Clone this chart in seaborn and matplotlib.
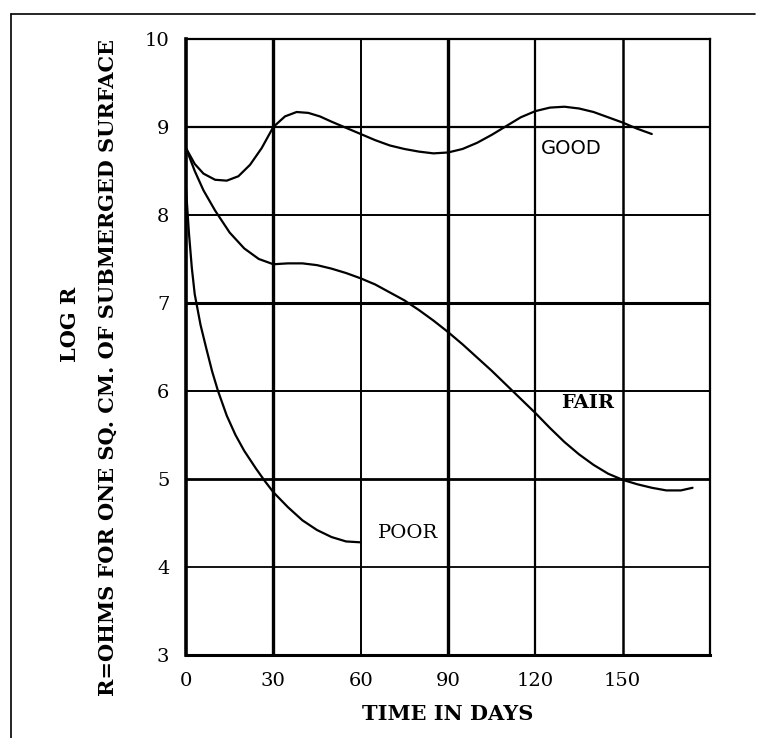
import matplotlib
matplotlib.use("Agg")
import matplotlib.pyplot as plt
import numpy as np
import pandas as pd
import seaborn as sns
from matplotlib.lines import Line2D

# values
good_days = [0, 3, 6, 10, 14, 18, 22, 26, 30, 34, 38, 42, 46, 50, 55, 60, 65, 70, 75, 80,
             85, 90, 95, 100, 105, 110, 115, 120, 125, 130, 135, 140, 145, 150, 155, 160]
good_logr = [8.76, 8.58, 8.47, 8.40, 8.39, 8.44, 8.57, 8.76, 9.00, 9.12, 9.17, 9.16, 9.12,
             9.06, 8.99, 8.92, 8.85, 8.79, 8.75, 8.72, 8.70, 8.71, 8.75, 8.82, 8.91, 9.01,
             9.11, 9.18, 9.22, 9.23, 9.21, 9.17, 9.11, 9.05, 8.98, 8.92]

fair_days = [0, 3, 6, 10, 15, 20, 25, 30, 35, 40, 45, 50, 55, 60, 65, 70, 75, 80, 85, 90,
             95, 100, 105, 110, 115, 120, 125, 130, 135, 140, 145, 150, 155, 160, 165, 170, 174]
fair_logr = [8.76, 8.50, 8.28, 8.05, 7.80, 7.62, 7.50, 7.44, 7.45, 7.45, 7.43, 7.39, 7.34,
             7.28, 7.21, 7.12, 7.03, 6.92, 6.80, 6.67, 6.53, 6.38, 6.23, 6.07, 5.91, 5.75,
             5.58, 5.42, 5.28, 5.16, 5.06, 4.99, 4.94, 4.90, 4.87, 4.87, 4.90]

poor_days = [0, 1, 2, 3, 5, 7, 9, 11, 14, 17, 20, 24, 27, 30, 35, 40, 45, 50, 55, 60]
poor_logr = [8.30, 7.80, 7.40, 7.10, 6.75, 6.48, 6.22, 6.00, 5.72, 5.50, 5.32, 5.12, 4.98,
             4.85, 4.68, 4.53, 4.42, 4.34, 4.29, 4.28]

x_ticks = [0, 30, 60, 90, 120, 150]
y_ticks = [3, 4, 5, 6, 7, 8, 9, 10]

curves = pd.concat([
    pd.DataFrame({"days": good_days, "logr": good_logr, "grade": "GOOD"}),
    pd.DataFrame({"days": fair_days, "logr": fair_logr, "grade": "FAIR"}),
    pd.DataFrame({"days": poor_days, "logr": poor_logr, "grade": "POOR"}),
])

sns.set_style("white")
plt.rcParams['font.family'] = ['DejaVu Serif']
plt.rcParams['text.color'] = 'black'
plt.rcParams['xtick.color'] = 'black'
plt.rcParams['ytick.color'] = 'black'
plt.rcParams['axes.labelcolor'] = 'black'

fig = plt.figure(figsize=(7.61, 7.38), dpi=100)
ax = fig.add_axes([0.2444, 0.1125, 0.6886, 0.8347])

# grid, drawn heavy like the printed original
v_width = {30: 2.4, 60: 1.4, 90: 2.4, 120: 1.6, 150: 1.8}
for d in x_ticks[1:]:
    ax.axvline(d, color="black", lw=v_width[d], zorder=1)
h_width = {4: 1.3, 5: 2.0, 6: 1.4, 7: 2.2, 8: 1.4, 9: 1.6}
for v in y_ticks[1:-1]:
    ax.axhline(v, color="black", lw=h_width[v], zorder=1)

sns.lineplot(data=curves, x="days", y="logr", units="grade", estimator=None,
             color="black", lw=1.6, sort=False, ax=ax, zorder=3)

ax.set_xlim(0, 180)
ax.set_ylim(3, 10)
ax.set_xticks(x_ticks)
ax.set_yticks(y_ticks)
ax.tick_params(length=0, labelsize=14, pad=12, colors="black")

for side, w in {"left": 2.6, "bottom": 2.2, "top": 1.6, "right": 1.6}.items():
    ax.spines[side].set_linewidth(w)
    ax.spines[side].set_color("black")

ax.set_xlabel("TIME IN DAYS", fontsize=15, fontweight="bold", labelpad=10, color="black")
ax.set_ylabel("")

fig.text(70 / 761, 1 - 324 / 738, "LOG R", rotation=90, ha="center", va="center",
         fontsize=15, fontweight="bold", color="black")
fig.text(108 / 761, 1 - 367 / 738, "R=OHMS FOR ONE SQ. CM. OF SUBMERGED SURFACE",
         rotation=90, ha="center", va="center", fontsize=15, fontweight="bold", color="black")

ax.text(122, 8.76, "GOOD", fontsize=14, va="center", ha="left", color="black",
        family="DejaVu Sans")
ax.text(129, 5.86, "FAIR", fontsize=14, fontweight="bold", va="center", ha="left", color="black")
ax.text(66, 4.39, "POOR", fontsize=14, va="center", ha="left", color="black")

# outer frame of the scanned page
fig.add_artist(Line2D([11 / 761, 755 / 761], [1 - 14 / 738, 1 - 14 / 738], color="black", lw=1.2))
fig.add_artist(Line2D([11 / 761, 11 / 761], [1 - 14 / 738, 0], color="black", lw=1.2))

fig.savefig("out.png", dpi=100)
